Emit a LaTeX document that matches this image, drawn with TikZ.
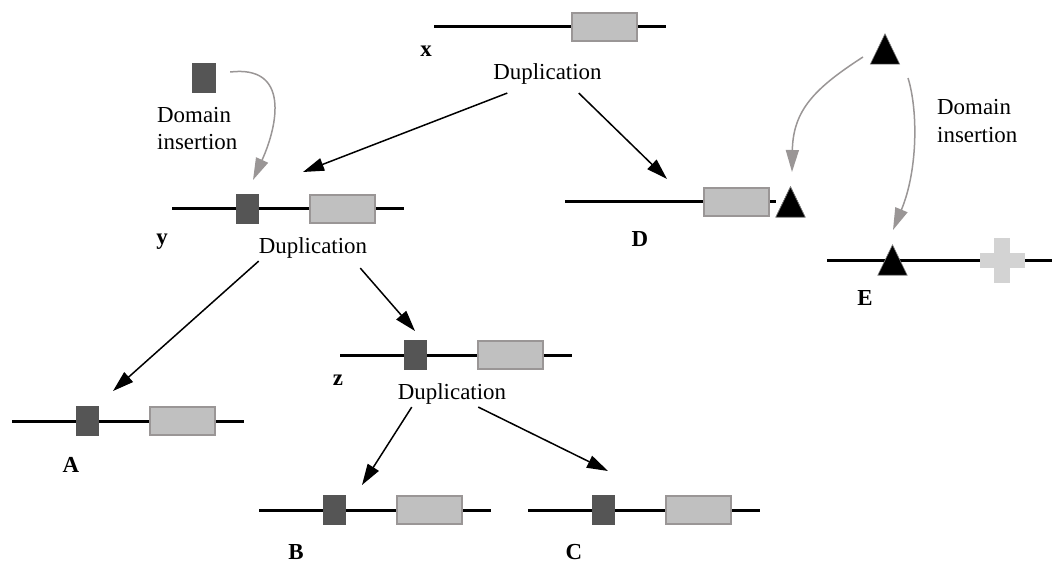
\documentclass[tikz,border=0pt]{standalone}
\usepackage{fontspec}
\setmainfont{Liberation Serif}
\usetikzlibrary{arrows.meta,calc}
\definecolor{darkdom}{HTML}{555555}
\definecolor{lightfill}{HTML}{C0C0C0}
\definecolor{lightedge}{HTML}{9A9696}
\definecolor{crossgray}{HTML}{D3D3D3}
\definecolor{curvegray}{HTML}{9A9696}
\newcommand{\txtsize}{\fontsize{22.9}{27.5}\selectfont}
\tikzset{
  geneline/.style={line width=3pt, black},
  darkdomain/.style={rectangle, fill=darkdom, draw=none, minimum width=23, minimum height=30, inner sep=0},
  lightdomain/.style={rectangle, fill=lightfill, draw=lightedge, line width=2.5pt, minimum width=65, minimum height=28, inner sep=0},
  tribox/.style={rectangle, minimum width=29, minimum height=30, inner sep=0},
  trishape/.style={fill=black, draw=gray, line width=0.6pt},
  crossbar/.style={rectangle, fill=crossgray, draw=none, inner sep=0},
  lbl/.style={font=\txtsize\bfseries, inner sep=0, anchor=base},
  dup/.style={font=\txtsize, inner sep=0, anchor=base},
  ins/.style={font=\txtsize, inner sep=0, anchor=base west},
  arr/.style={-{Triangle[length=21pt,width=13pt]}, line width=1.5pt, black},
  grayarr/.style={-{Triangle[length=22pt,width=13pt,fill=curvegray]}, line width=1.5pt, draw=curvegray},
}
\newcommand{\gene}[3]{%
  \coordinate (#1s) at (#2,#3);
  \coordinate (#1e) at (#2+232,#3);
  \draw[geneline] (#1s) -- (#1e);
  \node[darkdomain] (#1d) at (#2+75.5,#3) {};
  \node[lightdomain] (#1l) at (#2+170.5,#3) {};
}
\newcommand{\tri}[3]{%
  \node[tribox] (#1) at (#2,#3) {};
  \filldraw[trishape] (#1.south west) -- (#1.north) -- (#1.south east) -- cycle;
}
\begin{document}
\begin{tikzpicture}[x=1pt,y=-1pt]
\useasboundingbox (0,0) rectangle (1052,564);

% gene x (no inserted domain)
\coordinate (gxs) at (434,27);
\coordinate (gxe) at (666,27);
\draw[geneline] (gxs) -- (gxe);
\node[lightdomain] (gxl) at (604.5,27) {};

% genes with inserted domain
\gene{gy}{172}{209}
\gene{gz}{340}{355}
\gene{gA}{12}{421}
\gene{gB}{259}{510}
\gene{gC}{528}{510}

% gene D
\tri{Dt}{790.5}{202}
\coordinate (Ds) at (565,202);
\draw[geneline] (Ds) -- (Dt.west);
\node[lightdomain] (Dl) at (736.5,202) {};
\filldraw[trishape] (Dt.south west) -- (Dt.north) -- (Dt.south east) -- cycle;

% gene E
\coordinate (Es) at (827,260);
\coordinate (Ee) at (1052,260);
\draw[geneline] (Es) -- (Ee);
\tri{Et}{892.5}{260}
\node[crossbar, minimum width=16, minimum height=45] (Ev) at (1002,260.5) {};
\node[crossbar, minimum width=45, minimum height=15] (Eh) at (1002.5,260.5) {};

% inserted domains (free)
\node[darkdomain, minimum width=24] (ins) at (204,78) {};
\tri{t0}{885}{49}

% labels
\node[lbl] (xl) at (426,57) {x};
\node[lbl] (yl) at (162,244) {y};
\node[lbl] (zl) at (338,385) {z};
\node[lbl] (Al) at (71,472) {A};
\node[lbl] (Bl) at (296,559) {B};
\node[lbl] (Cl) at (574,559) {C};
\node[lbl] (Dlab) at (640,247) {D};
\node[lbl] (El) at (865,305) {E};

\node[dup] (dupx) at (547.5,80) {Duplication};
\node[dup] (dupy) at (313,253) {Duplication};
\node[dup] (dupz) at (452,399) {Duplication};

\node[ins] (din1a) at (157,123) {Domain};
\node[ins] (din1b) at (157,150) {insertion};
\node[ins] (din2a) at (937,115) {Domain};
\node[ins] (din2b) at (937,143) {insertion};

% arrow tips
\coordinate (ty) at (303,172);
\coordinate (tD) at (667,179);
\coordinate (tA) at (113,391);
\coordinate (tz) at (415,331);
\coordinate (tB) at (362,485);
\coordinate (tC) at (608,471);
\coordinate (gy) at (253,180);
\coordinate (gD) at (792,172);
\coordinate (gE) at (893,230);

% duplication arrows
\draw[arr] ($(dupx.south west)+(14,8)$) -- (ty);
\draw[arr] ($(dupx.south east)+(-23,8)$) -- (tD);
\draw[arr] ($(dupy.south west)+(0,3)$) -- (tA);
\draw[arr] ($(dupy.south east)+(-7,10)$) -- (tz);
\draw[arr] ($(dupz.south west)+(14,3)$) -- (tB);
\draw[arr] ($(dupz.south east)+(-28,3)$) -- (tC);

% domain insertion arrows
\draw[grayarr] ($(ins.east)+(14,-6)$) .. controls (290,65) and (278,125) .. (gy);
\draw[grayarr] ($(t0)+(-22,8)$) .. controls (815,88) and (793,110) .. (gD);
\draw[grayarr] ($(t0)+(23,29)$) .. controls (918,110) and (918,170) .. (gE);
\end{tikzpicture}
\end{document}
